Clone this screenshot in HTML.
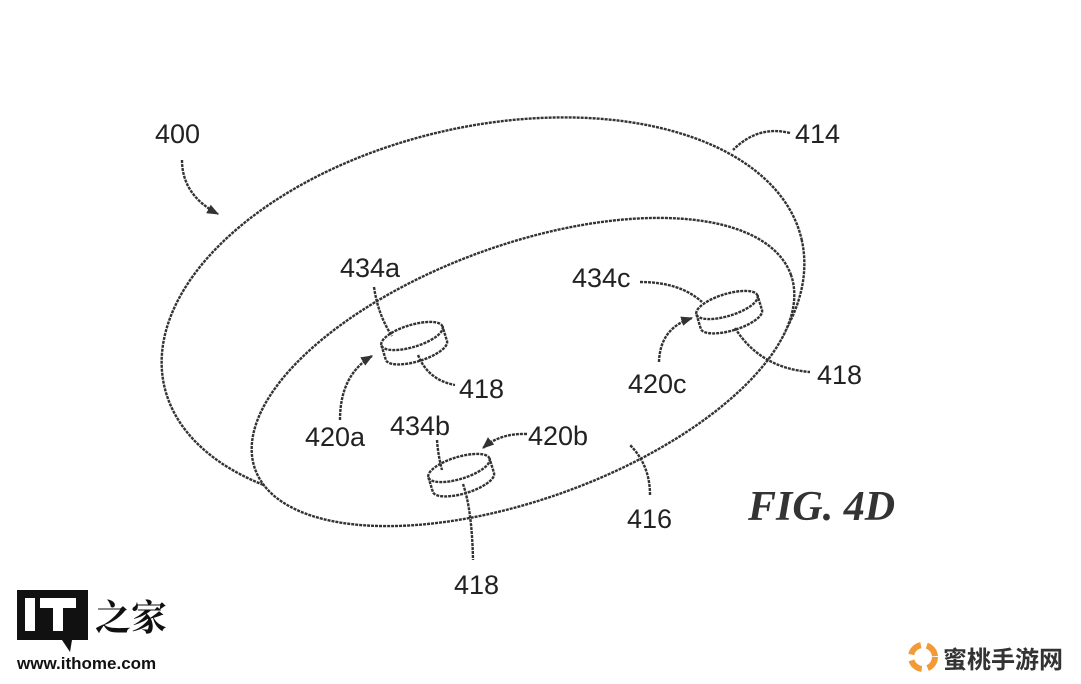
<!DOCTYPE html>
<html><head><meta charset="utf-8"><style>
html,body{margin:0;padding:0;background:#fff;width:1081px;height:684px;overflow:hidden}
svg{position:absolute;left:0;top:0}
text{font-family:"Liberation Sans",sans-serif;font-size:27px;fill:#222}
</style></head><body>
<svg width="1081" height="684" viewBox="0 0 1081 684">
<defs><marker id="ar" viewBox="0 0 10 10" refX="9" refY="5" markerWidth="5" markerHeight="5" orient="auto"><path d="M0,1 L10,5 L0,9 z" fill="#333"/></marker></defs>
<g fill="none" stroke="#333" stroke-width="2.4" stroke-dasharray="3 1">
<ellipse cx="483" cy="313" rx="327" ry="186" transform="rotate(-13 483 313)"/>
<ellipse cx="523" cy="372" rx="285" ry="127" transform="rotate(-20 523 372)" fill="#fff"/>
<!-- cylinders -->
<g transform="translate(412,336) rotate(-17)">
<ellipse cx="0" cy="0" rx="32" ry="11" fill="#fff"/><path d="M-32,0 L-32,15 A32,11 0 0 0 32,15 L32,0"/></g>
<g transform="translate(459,468) rotate(-17)">
<ellipse cx="0" cy="0" rx="32" ry="11" fill="#fff"/><path d="M-32,0 L-32,15 A32,11 0 0 0 32,15 L32,0"/></g>
<g transform="translate(727,305) rotate(-17)">
<ellipse cx="0" cy="0" rx="32" ry="11" fill="#fff"/><path d="M-32,0 L-32,15 A32,11 0 0 0 32,15 L32,0"/></g>
<!-- leaders -->
<path d="M182,160 Q182,195 218,214" marker-end="url(#ar)"/>
<path d="M790,133 Q758,125 733,150"/>
<path d="M374,287 Q378,315 392,336"/>
<path d="M418,355 Q428,380 455,385"/>
<path d="M340,420 Q340,375 372,356" marker-end="url(#ar)"/>
<path d="M437,440 Q438,455 442,470"/>
<path d="M527,434 Q500,433 483,448" marker-end="url(#ar)"/>
<path d="M463,484 Q472,510 473,560"/>
<path d="M640,282 Q680,282 702,302"/>
<path d="M735,328 Q760,368 810,372"/>
<path d="M659,362 Q660,328 692,318" marker-end="url(#ar)"/>
<path d="M650,495 Q650,465 630,445"/>
</g>
<text x="155" y="143">400</text>
<text x="795" y="143">414</text>
<text x="340" y="277">434a</text>
<text x="572" y="287">434c</text>
<text x="459" y="398">418</text>
<text x="817" y="384">418</text>
<text x="305" y="446">420a</text>
<text x="628" y="393">420c</text>
<text x="390" y="435">434b</text>
<text x="528" y="445">420b</text>
<text x="627" y="528">416</text>
<text x="454" y="594">418</text>
<text x="748" y="520" style="font-family:'Liberation Serif',serif;font-weight:bold;font-style:italic;font-size:42px;fill:#333">FIG. 4D</text>
<!-- ithome logo -->
<rect x="17" y="590" width="71" height="50" fill="#111"/>
<path d="M62,640 L70,652 L72,640 z" fill="#111"/>
<rect x="25" y="598" width="10" height="33" fill="#fff"/>
<rect x="40" y="598" width="36" height="10" fill="#fff"/>
<rect x="53" y="598" width="10" height="33" fill="#fff"/>
<text x="95" y="630" style="font-family:'Noto Serif CJK SC',serif;font-size:36px;font-weight:bold;fill:#111">之家</text>
<text x="17" y="669" style="font-size:17px;font-weight:bold;fill:#111">www.ithome.com</text>
<!-- peach logo -->
<circle cx="923" cy="657" r="12" fill="none" stroke="#f29a38" stroke-width="6" stroke-dasharray="14 6"/>
<text x="943" y="668" style="font-family:'Liberation Sans','Noto Sans CJK SC',sans-serif;font-size:24px;font-weight:bold;fill:#333">蜜桃手游网</text>
</svg>
</body></html>
